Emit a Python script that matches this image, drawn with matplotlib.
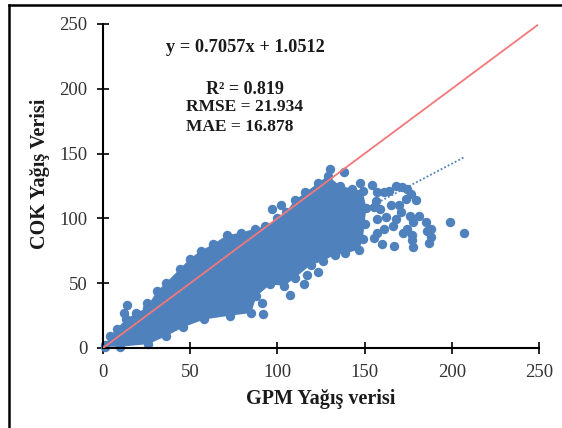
import matplotlib
matplotlib.use('Agg')
import matplotlib.pyplot as plt

plt.rcParams['font.family'] = ['Liberation Serif', 'DejaVu Serif']

# borde superior de la nube (x, y)
upper_x = [1, 4, 8, 13, 19, 25, 31, 36, 44, 50, 56, 63, 71, 79, 87, 93, 100, 105, 110, 116, 123, 129, 136, 143, 149]
upper_y = [2, 9, 15, 22, 27, 31, 44, 50, 61, 69, 75, 80, 87, 89, 92, 94, 100, 105, 114, 120, 127, 133, 125, 123, 121]
# borde inferior de la nube
lower_x = [151, 150, 149, 147, 139, 133, 126, 119, 110, 104, 96, 88, 85, 73, 58, 46, 36, 26, 10, 1]
lower_y = [108, 96, 84, 76, 73, 72, 67, 64, 54, 48, 49, 40, 27, 25, 22, 16, 9, 3, 1, 1]
# puntos sueltos fuera de la nube
out_x = [14, 12, 25, 97, 102, 130, 138, 147.4, 154.4, 157.3, 161, 164, 167.8, 171.7, 174.5, 176.5, 179.3, 173.6, 169.8, 165, 170.7, 167.8, 166, 162, 157.3, 159, 155.4, 156.4,
         207, 199, 188, 187, 188, 186, 178, 177, 177, 167, 155.5, 160, 172, 174.5, 161, 157, 178, 181, 185, 176, 92, 91, 107, 115, 123, 117]
out_y = [33, 27, 35, 107, 110, 138, 136, 127, 126, 120, 120, 121, 125, 124, 122.6, 119, 114, 115, 110, 110.7, 105, 99.7, 94, 101, 99.7, 107, 108.7, 113.7,
         89, 97, 92, 81, 86, 90, 77.6, 83, 87, 78.6, 84.5, 80, 89, 91.6, 92, 89, 97, 102, 97, 102, 26, 35, 40.7, 49, 59, 56]

x_ticks = [0, 50, 100, 150, 200, 250]
y_ticks = [0, 50, 100, 150, 200, 250]

slope = 0.7057
intercept = 1.0512
trend_x = [0, 207]
ideal_x = [0, 249]

fig = plt.figure(figsize=(5.62, 4.28), dpi=100)
W, H = 562, 428
ax = fig.add_axes([103 / W, 1 - 348 / H, 436 / W, 324 / H])

blue = '#4f81bd'
ax.fill(upper_x + lower_x, upper_y + lower_y, color=blue, lw=0, zorder=2)
ax.scatter(upper_x + lower_x + out_x, upper_y + lower_y + out_y, s=46, color=blue, lw=0, zorder=2, clip_on=False)

trend_y = [slope * v + intercept for v in trend_x]
ax.plot(trend_x, trend_y, color=blue, lw=1.3, ls=(0, (1, 1.2)), zorder=3)
ax.plot(ideal_x, ideal_x, color='#f4777a', lw=1.3, zorder=4)

ax.set_xlim(0, 250)
ax.set_ylim(0, 250)
ax.set_xticks(x_ticks)
ax.set_yticks(y_ticks)
ax.spines['top'].set_visible(False)
ax.spines['right'].set_visible(False)
ax.spines['left'].set_linewidth(1.5)
ax.spines['bottom'].set_linewidth(1.5)
ax.tick_params(direction='inout', length=8.5, width=1.2, labelsize=13.5, labelcolor='#333333', pad=7)


def put(px, py, s, ha='left', size=12.5, rot=0):
    fig.text(px / W, 1 - py / H, s, fontsize=size, fontweight='bold', ha=ha, va='center',
             rotation=rot, color='#1a1a1a')


put(245, 48, 'y = 0.7057x + 1.0512', ha='center', size=13.2)
put(245, 89, 'R² = 0.819', ha='center', size=13)
put(186, 107, 'RMSE = 21.934')
put(186, 127, 'MAE = 16.878')
put(321, 399, 'GPM Yağış verisi', ha='center', size=14.5)
put(40, 174, 'COK Yağış Verisi', ha='center', size=14.5, rot=90)

# marco de la figura
for xs, ys in [([9, 9], [428, 5]), ([9, 562], [5, 5])]:
    fig.add_artist(plt.Line2D([v / W for v in xs], [1 - v / H for v in ys], color='black', lw=1.8))

fig.savefig('out.png', dpi=100)
